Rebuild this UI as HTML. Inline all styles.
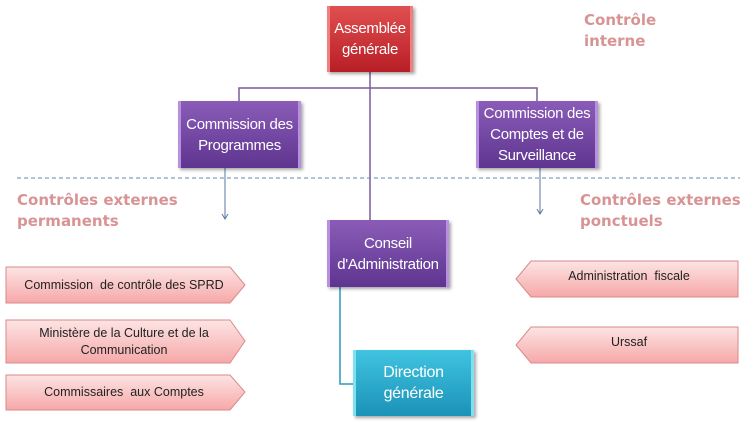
<!DOCTYPE html>
<html><head><meta charset="utf-8"><style>
body{margin:0;width:750px;height:424px;background:#fff;position:relative;overflow:hidden;font-family:"Liberation Sans",sans-serif}
.b{position:absolute;color:#fff;font-size:15px;letter-spacing:-0.3px;white-space:nowrap;line-height:21px;text-align:center;display:flex;align-items:center;justify-content:center;box-sizing:border-box;box-shadow:2px 2px 3px rgba(0,0,0,.35)}
.red{background:linear-gradient(#e05050,#b81e26);border-left:3px solid #f08080;border-right:3px solid #f08080}
.pur{background:linear-gradient(#8a5cb8,#5e3590);border-left:3px solid #b890e0;border-right:3px solid #b890e0}
.cy{background:linear-gradient(#40c4e0,#1b92b8);border-left:3px solid #80e0f0;border-right:3px solid #80e0f0}
.l{position:absolute;font-family:"DejaVu Sans",sans-serif;font-weight:bold;color:#d89494;font-size:15px;line-height:21px}
.t{position:absolute;font-size:12.5px;color:#222;text-align:center;display:flex;align-items:center;justify-content:center;line-height:17px}
</style></head><body>
<svg width="750" height="424" style="position:absolute;left:0;top:0">
<defs><linearGradient id="pk" x1="0" y1="0" x2="0" y2="1"><stop offset="0" stop-color="#fde4e4"/><stop offset="1" stop-color="#f6a8a8"/></linearGradient></defs>
<g stroke="#7a5a9a" stroke-width="1.5" fill="none">
<path d="M239 101V88H537V101M370 72V220"/></g>
<path d="M340 287V384H353" stroke="#2a9ab8" stroke-width="1.5" fill="none"/>
<line x1="17" y1="178" x2="740" y2="178" stroke="#6a8ab0" stroke-dasharray="4,3"/>
<g stroke="#5a7aa0" fill="none"><path d="M225 168V218M222 214L225 219L228 214"/><path d="M540 168V213M537 209L540 214L543 209"/></g>
<g fill="url(#pk)" stroke="#d88a8a">
<path d="M6 267H230L245 285L230 303H6Z"/>
<path d="M6 320H230L245 341L230 363H6Z"/>
<path d="M6 375H230L245 392L230 410H6Z"/>
<path d="M531 261H738V297H531L516 279Z"/>
<path d="M531 327H738V363H531L516 345Z"/>
</g>
</svg>
<div class="b red" style="left:327px;top:6px;width:86px;height:66px">Assemblée<br>générale</div>
<div class="b pur" style="left:178px;top:101px;width:123px;height:67px">Commission des<br>Programmes</div>
<div class="b pur" style="left:476px;top:101px;width:122px;height:67px">Commission des<br>Comptes et de<br>Surveillance</div>
<div class="b pur" style="left:327px;top:220px;width:122px;height:67px">Conseil<br>d'Administration</div>
<div class="b cy" style="left:353px;top:350px;width:121px;height:66px;font-size:16px">Direction<br>générale</div>
<div class="l" style="left:584px;top:10px">Contrôle<br>interne</div>
<div class="l" style="left:17px;top:190px">Contrôles externes<br>permanents</div>
<div class="l" style="left:580px;top:190px">Contrôles externes<br>ponctuels</div>
<div class="t" style="left:6px;top:267px;width:236px;height:36px">Commission&nbsp; de contrôle des SPRD</div>
<div class="t" style="left:6px;top:320px;width:236px;height:43px">Ministère de la Culture et de la<br>Communication</div>
<div class="t" style="left:6px;top:375px;width:236px;height:35px">Commissaires&nbsp; aux Comptes</div>
<div class="t" style="left:520px;top:261px;width:218px;height:30px">Administration&nbsp; fiscale</div>
<div class="t" style="left:520px;top:327px;width:218px;height:30px">Urssaf</div>
</body></html>
